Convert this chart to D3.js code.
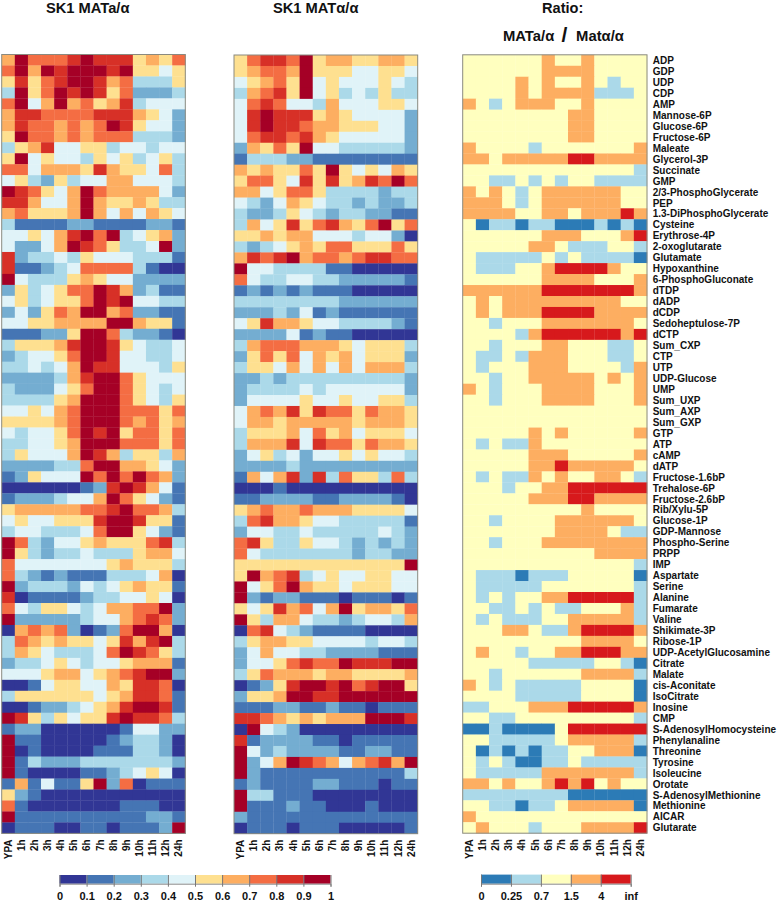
<!DOCTYPE html>
<html><head><meta charset="utf-8">
<script src="https://cdnjs.cloudflare.com/ajax/libs/d3/7.8.5/d3.min.js"></script>
<style>html,body{margin:0;padding:0;background:#fff}svg{display:block}text{font-family:"Liberation Sans",Arial,sans-serif;font-weight:bold;fill:#111}</style>
</head><body><div id="c"></div>
<script>
const metabolites = ["ADP","GDP","UDP","CDP","AMP","Mannose-6P","Glucose-6P","Fructose-6P","Maleate","Glycerol-3P","Succinate","GMP","2/3-PhosphoGlycerate","PEP","1.3-DiPhosphoGlycerate","Cysteine","Erythrose-4P","2-oxoglutarate","Glutamate","Hypoxanthine","6-PhosphoGluconate","dTDP","dADP","dCDP","Sedoheptulose-7P","dCTP","Sum_CXP","CTP","UTP","UDP-Glucose","UMP","Sum_UXP","Sum_AXP","Sum_GXP","GTP","ATP","cAMP","dATP","Fructose-1.6bP","Trehalose-6P","Fructose-2.6bP","Rib/Xylu-5P","Glucose-1P","GDP-Mannose","Phospho-Serine","PRPP","IMP","Aspartate","Serine","Alanine","Fumarate","Valine","Shikimate-3P","Ribose-1P","UDP-AcetylGlucosamine","Citrate","Malate","cis-Aconitate","IsoCitrate","Inosine","CMP","S-AdenosylHomocysteine","Phenylanaline","Threonine","Tyrosine","Isoleucine","Orotate","S-AdenosylMethionine","Methionine","AICAR","Glutarate"];
const timepoints = ["YPA","1h","2h","3h","4h","5h","6h","7h","8h","9h","10h","11h","12h","24h"];
// each digit d = value in decile [d/10, (d+1)/10)
const deciles_MATa = ["69777898885657","79698999895545","58578998673335","39579898572223","79469675683444","68877778886542","68776767985442","59776767773332","35684455344344","59454435453453","77466658655473","45325344664443","98754697666642","88644696556533","67555696464654","31111221111221","44546897934562","42246987533492","82334354443331","81123477773100","94333565442222","25345779862311","45345579894433","24257699672211","44556666996551","11122599732210","35556899854334","23445799844334","33434698844435","22223689975444","32224579975434","33335699975435","44546799977757","55556799976756","43445798957757","33445699977757","35444698635536","22223379966542","12544497979762","00000012898641","12223446975421","56666677897763","45445558998551","34433347995421","97324456555783","95323343335664","74444444565553","73212111333460","92333243456551","80111123344540","74355434667792","92222234467872","06767201279960","37656554586893","36543334798753","23345434456661","44456645678992","00145544658870","35555554568871","00122345689981","98535455898873","12200000014422","91100000123320","90100001113320","91322233333332","91000011234540","16141159270111","52100000000000","71000000011100","91111111111221","01110011011129"];
const deciles_MATalpha = ["57887956655665","56776955544554","45675945444543","36785945343533","47874436444554","48988856544442","48988766555442","47887865444442","26575944333332","13332211111111","65655759545465","57754858568797","66457753333233","43246543323223","32235432332211","36458578657957","55656644434420","32345657755575","68789677678877","94433331100000","74334433222221","12121211100000","33333333222222","22232412111111","45866544333321","22224121100000","36777666545553","25757465645552","35546464646663","22323333333332","23333434444442","24444544544553","46768587757665","46656666656665","35556475645554","36668487757665","24534244545443","22223222222222","16468283755373","00010000000000","11222211222210","56766766655554","37866544333331","24433433333432","78533544323232","74333333323322","55555555555559","59678345445544","94579655455544","92122111011101","54586746956657","95366433234436","07843211110000","35665544443443","24644332222111","24457877988899","35766656655556","01258998978995","25569988999999","11122112110111","88765656669998","09432000000000","81222211011111","94232222112211","92469876467869","92111111111113","12111122111011","93311100000000","91112110001000","21111111111111","01110111000001"];
// each digit indexes ratioClassValues
const ratioClasses = ["22222232232222","22222233332222","22223232232122","22223233331112","32123332232222","22222222332222","22222222332222","22222222332222","32222122222223","33233333443333","22222222222221","22112121221111","32321233333322","33321233333322","33332233233343","20110110001010","22222233322234","22222332111221","21111121211110","21112234444322","22222233332223","33333344444443","23233333333322","23233344443333","22122233333332","22221344444434","22122233222112","21121333222112","21222333222213","22122333332323","32122233332223","22122233332223","22222222222222","22222222222222","22222323222223","21211322222222","22222333222223","22222334333332","21211323223321","22212233444444","22222333443333","22222222232222","22122223333332","22222223333211","22122233333333","22222222223333","22222222222221","21110111222220","21111122222221","21212233444441","22112121122231","21211122333331","22233211344443","22222222233332","23221223344433","22222111112210","22122222233331","32121111122220","22221111122220","11222333444443","22112222222221","00100002444444","22111112333331","20101011223330","21210011211111","21111133333331","33232234342322","11111111000000","22110112333330","32222222222222","23222122233334"];
const ratioClassValues = [0.12,0.5,1,2.5,8];
const decileBreaks = [0.1,0.2,0.3,0.4,0.5,0.6,0.7,0.8,0.9];
const decileColors = ["#313695","#4575b4","#74add1","#abd9e9","#e0f3f8","#fee090","#fdae61","#f46d43","#d73027","#a50026"];
const decileTicks = ["0","0.1","0.2","0.3","0.4","0.5","0.6","0.7","0.8","0.9","1"];
const ratioBreaks = [0.25,0.7,1.5,4];
const ratioColors = ["#2c7bb6","#abd9e9","#ffffbf","#fdae61","#d7191c"];
const ratioTicks = ["0","0.25","0.7","1.5","4","inf"];

const W=778,H=904;
const svg=d3.select("#c").append("svg").attr("width",W).attr("height",H);
const decileColor=d3.scaleThreshold().domain(decileBreaks).range(decileColors);
const ratioColor=d3.scaleThreshold().domain(ratioBreaks).range(ratioColors);
const decileValues=rows=>rows.map(r=>Array.from(r,c=>(+c+0.5)/10));
const ratioValues=rows=>rows.map(r=>Array.from(r,c=>ratioClassValues[+c]));

function heat(rows,color,x0,x1,y0,y1,withLabels){
  const x=d3.scaleBand().domain(timepoints).range([x0,x1]);
  const y=d3.scaleBand().domain(metabolites).range([y0,y1]);
  const g=svg.append("g");
  const cells=rows.flatMap((r,i)=>r.map((v,j)=>({m:metabolites[i],t:timepoints[j],v})));
  g.selectAll("rect").data(cells).join("rect")
    .attr("x",d=>x(d.t)).attr("y",d=>y(d.m))
    .attr("width",x.bandwidth()+.3).attr("height",y.bandwidth()+.3)
    .attr("fill",d=>color(d.v));
  svg.append("rect").attr("x",x0).attr("y",y0).attr("width",x1-x0).attr("height",y1-y0)
    .attr("fill","none").attr("stroke","#8a8a80").attr("stroke-width",1);
  const ax=svg.append("g").attr("transform",`translate(0,${y1+5})`).call(d3.axisBottom(x).tickSize(0).tickPadding(0));
  ax.select(".domain").remove();
  ax.selectAll("text").attr("transform","rotate(-90)").attr("text-anchor","end")
    .attr("x",-1).attr("y",0).attr("dy","0.35em").style("font-size","10px");
  if(withLabels){
    const ay=svg.append("g").attr("transform",`translate(${x1+5.7},0.5)`).call(d3.axisRight(y).tickSize(0).tickPadding(0));
    ay.select(".domain").remove();
    ay.selectAll("text").style("font-size","10px").attr("text-anchor","start");
  }
}
heat(decileValues(deciles_MATa),decileColor,1.7,185.3,54.5,833.4,false);
heat(decileValues(deciles_MATalpha),decileColor,234,417.7,55,833.7,false);
heat(ratioValues(ratioClasses),ratioColor,462.7,647,54.8,833.2,true);

function legend(ticks,colors,x0,x1,y0,y1){
  const x=d3.scalePoint().domain(ticks).range([x0,x1]);
  const g=svg.append("g");
  g.selectAll("rect").data(colors).join("rect")
    .attr("x",(d,i)=>x(ticks[i])).attr("y",y0)
    .attr("width",(d,i)=>x(ticks[i+1])-x(ticks[i])).attr("height",y1-y0)
    .attr("fill",d=>d);
  const ax=svg.append("g").attr("transform",`translate(0,${y1})`).call(d3.axisBottom(x).tickSize(3).tickPadding(6));
  ax.select(".domain").attr("stroke","#8a8a8a");
  ax.selectAll(".tick line").attr("stroke","#777").attr("y1",-(y1-y0));
  ax.selectAll("text").style("font-size","11px");
}
legend(decileTicks,decileColors,59.5,330.5,875,883.7);
legend(ratioTicks,ratioColors,481,630.7,874.6,883.7);

const title=(t,x,y,fs)=>svg.append("text").attr("x",x).attr("y",y).attr("text-anchor","middle").style("font-size",fs+"px").text(t);
title("SK1 MATa/α",87.7,13,14.7);
title("SK1 MATα/α",315.7,13,14.7);
title("Ratio:",562.7,12.5,14.6);
title("MATa/α",528.6,41,14.8);
title("/",564.5,41.5,21);
title("Matα/α",600,41,14.8);
</script></body></html>
